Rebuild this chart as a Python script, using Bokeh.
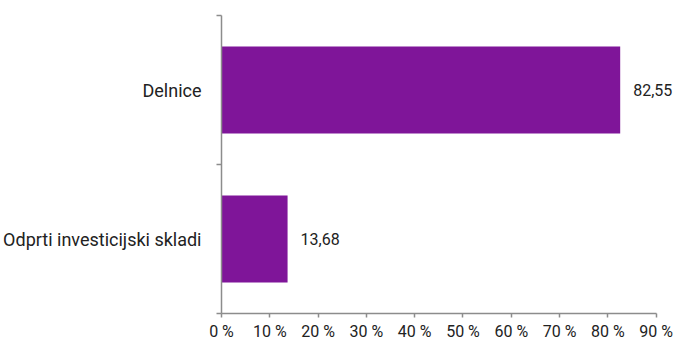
from bokeh.plotting import figure
from bokeh.models import FixedTicker, ColumnDataSource
from bokeh.embed import file_html
from bokeh.resources import INLINE
from bokeh.core.properties import value

categories = ["Odprti investicijski skladi", "Delnice"]
values = [13.68, 82.55]
value_labels = ["13,68", "82,55"]
x_ticks = [0, 10, 20, 30, 40, 50, 60, 70, 80, 90]
x_tick_labels = ["0 %", "10 %", "20 %", "30 %", "40 %", "50 %", "60 %", "70 %", "80 %", "90 %"]

ypos = [i + 0.5 for i in range(len(categories))]
src = ColumnDataSource(dict(y=ypos, v=values, lab=value_labels))

p = figure(frame_width=454, frame_height=298, output_backend="svg", toolbar_location=None,
           x_range=(0, 94), y_range=(0, len(categories)),
           min_border_left=213, min_border_right=0, min_border_top=15, min_border_bottom=0)
p.outline_line_color = None
p.xgrid.visible = False
p.ygrid.visible = False

p.hbar(y="y", right="v", left=0, height=0.585, source=src, fill_color="#7f1599", line_color=None)
p.text(x="v", y="y", text="lab", source=src, x_offset=13, text_align="left", text_baseline="middle",
       text_font=value("Roboto"), text_font_size="16px", text_color="#222222")

axc = "#8c8c8c"
p.xaxis.bounds = (0, 90)
p.xaxis.ticker = FixedTicker(ticks=x_ticks)
p.xaxis.major_label_overrides = {t: l for t, l in zip(x_ticks, x_tick_labels)}
p.xaxis.axis_line_color = axc
p.xaxis.axis_line_width = 1.5
p.xaxis.major_tick_line_color = axc
p.xaxis.major_tick_line_width = 1.5
p.xaxis.major_tick_out = 4
p.xaxis.major_tick_in = 0
p.xaxis.minor_tick_line_color = None
p.xaxis.major_label_standoff = 4
p.xaxis.major_label_text_font = "Roboto"
p.xaxis.major_label_text_font_size = "16px"
p.xaxis.major_label_text_color = "#222222"

p.yaxis.ticker = FixedTicker(ticks=ypos, minor_ticks=list(range(len(categories) + 1)))
p.yaxis.major_label_overrides = {y: c for y, c in zip(ypos, categories)}
p.yaxis.axis_line_color = axc
p.yaxis.axis_line_width = 1.5
p.yaxis.major_tick_line_color = None
p.yaxis.major_tick_out = 0
p.yaxis.major_tick_in = 0
p.yaxis.minor_tick_line_color = axc
p.yaxis.minor_tick_line_width = 1.5
p.yaxis.minor_tick_out = 5
p.yaxis.minor_tick_in = 0
p.yaxis.major_label_standoff = 15
p.yaxis.major_label_text_font = "Roboto"
p.yaxis.major_label_text_font_size = "18px"
p.yaxis.major_label_text_color = "#222222"

open("out.html", "w").write(file_html(p, INLINE))
